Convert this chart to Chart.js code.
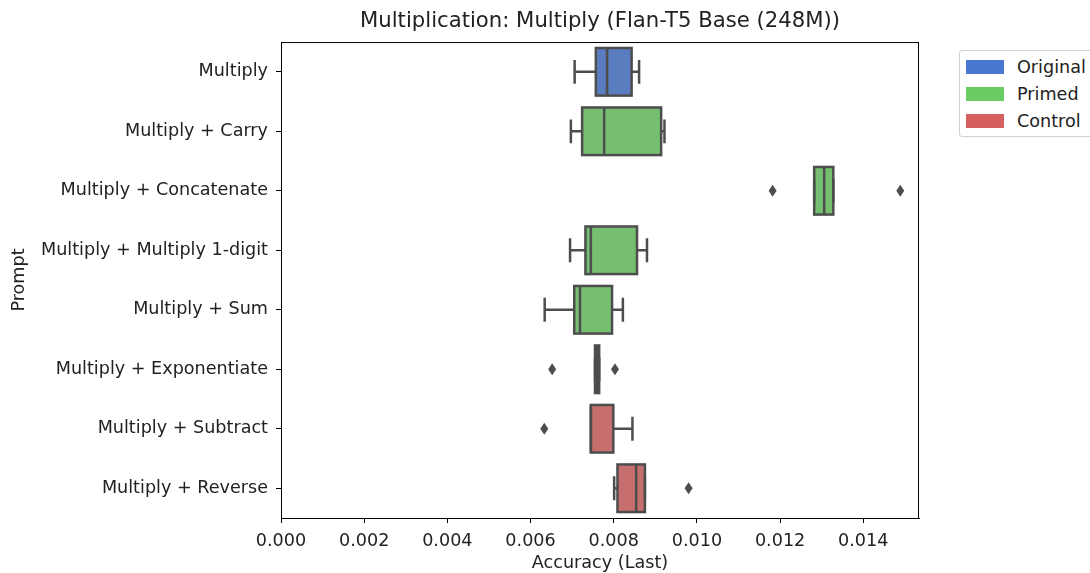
<!DOCTYPE html>
<html>
<head>
<meta charset="utf-8">
<script src="https://cdn.jsdelivr.net/npm/chart.js@4.4.0/dist/chart.umd.min.js"></script>
<style>
	html, body { margin: 0; padding: 0; background: #fff; }
	#wrap { position: relative; width: 1090px; height: 573px; overflow: hidden; }
	#legend { position: absolute; left: 959px; top: 50px; width: 140px; height: 87px;
		border: 1px solid #d0d0d0; border-radius: 3px; box-sizing: border-box; background: #fff;
		font-family: 'DejaVu Sans', sans-serif; font-size: 17.6px; color: #222; }
	.row { position: absolute; left: 0; height: 16px; }
	.patch { position: absolute; left: 6px; top: 1px; width: 38px; height: 14px; }
	.lab { position: absolute; left: 57px; top: -2px; white-space: nowrap; line-height: 20px; }
</style>
</head>
<body>
<div id="wrap">
	<canvas id="boxChart" width="1090" height="573"></canvas>
	<div id="legend"></div>
</div>
<script>
// prompts (top to bottom) and which group each belongs to
const categories = ['Multiply', 'Multiply + Carry', 'Multiply + Concatenate', 'Multiply + Multiply 1-digit',
	'Multiply + Sum', 'Multiply + Exponentiate', 'Multiply + Subtract', 'Multiply + Reverse'];
const groups = ['Original', 'Primed', 'Primed', 'Primed', 'Primed', 'Primed', 'Control', 'Control'];

// box plot stats
const whiskerLow  = [0.00706, 0.00697, 0.01282, 0.00695, 0.00634, 0.00755, 0.00745, 0.00801];
const q1          = [0.00757, 0.00724, 0.01282, 0.00732, 0.00705, 0.00755, 0.00745, 0.00809];
const median      = [0.00784, 0.00777, 0.01306, 0.00745, 0.00719, 0.00760, 0.00745, 0.00854];
const q3          = [0.00843, 0.00914, 0.01328, 0.00856, 0.00796, 0.00765, 0.00799, 0.00875];
const whiskerHigh = [0.00861, 0.00922, 0.01328, 0.00880, 0.00822, 0.00765, 0.00845, 0.00875];
const outliers    = [[], [], [0.01182, 0.01489], [], [], [0.00652, 0.00803], [0.00633], [0.00980]];

const xTicks = [0, 0.002, 0.004, 0.006, 0.008, 0.010, 0.012, 0.014];

const groupNames = ['Original', 'Primed', 'Control'];
const legendColors = ['#4878d0', '#6acc64', '#d65f5f'];
const boxColors = ['#597dbf', '#76bf71', '#c76e6e'];
const lineColor = '#4d4d4d';
const textColor = '#222';

Chart.defaults.font.family = "'DejaVu Sans', sans-serif";
Chart.defaults.color = textColor;

// whiskers, medians, outlines and outlier diamonds
const boxParts = {
	id: 'boxParts',
	afterDatasetsDraw(chart) {
		const ctx = chart.ctx;
		const x = chart.scales.x;
		const meta = chart.getDatasetMeta(0);
		ctx.save();
		ctx.strokeStyle = lineColor;
		ctx.fillStyle = lineColor;
		ctx.lineWidth = 2.5;
		categories.forEach(function(c, i) {
			const bar = meta.data[i];
			const cy = bar.y;
			const h = bar.height;
			const xl = x.getPixelForValue(whiskerLow[i]);
			const xh = x.getPixelForValue(whiskerHigh[i]);
			const a = x.getPixelForValue(q1[i]);
			const b = x.getPixelForValue(q3[i]);
			const m = x.getPixelForValue(median[i]);
			ctx.beginPath();
			// whiskers + caps
			if (xl < a - 0.5) {
				ctx.moveTo(xl, cy); ctx.lineTo(a, cy);
			}
			ctx.moveTo(xl, cy - h / 4); ctx.lineTo(xl, cy + h / 4);
			if (xh > b + 0.5) {
				ctx.moveTo(b, cy); ctx.lineTo(xh, cy);
			}
			ctx.moveTo(xh, cy - h / 4); ctx.lineTo(xh, cy + h / 4);
			// median
			ctx.moveTo(m, cy - h / 2); ctx.lineTo(m, cy + h / 2);
			ctx.stroke();
			// box outline
			ctx.strokeRect(a, cy - h / 2, b - a, h);
			// outliers
			outliers[i].forEach(function(v) {
				const px = x.getPixelForValue(v);
				ctx.beginPath();
				ctx.moveTo(px, cy - 6);
				ctx.lineTo(px + 4, cy);
				ctx.lineTo(px, cy + 6);
				ctx.lineTo(px - 4, cy);
				ctx.closePath();
				ctx.fill();
			});
		});
		ctx.restore();
	},
	afterDraw(chart) {
		const a = chart.chartArea;
		const ctx = chart.ctx;
		ctx.save();
		ctx.strokeStyle = '#000';
		ctx.lineWidth = 1;
		ctx.strokeRect(a.left + 0.5, a.top + 0.5, a.right - a.left - 1, a.bottom - a.top);
		ctx.restore();
	}
};

const ctx = document.getElementById('boxChart').getContext('2d');
const chart = new Chart(ctx, {
	type: 'bar',
	data: {
		labels: categories,
		datasets: [{
			label: 'box',
			data: categories.map((c, i) => [q1[i], q3[i]]),
			backgroundColor: groups.map(g => boxColors[groupNames.indexOf(g)]),
			borderWidth: 0,
			barPercentage: 0.8,
			categoryPercentage: 1.0
		}]
	},
	options: {
		indexAxis: 'y',
		responsive: false,
		animation: false,
		layout: { padding: { left: 0, right: 171, top: 0, bottom: 0 } },
		plugins: {
			legend: { display: false },
			tooltip: { enabled: false },
			title: {
				display: true,
				fullSize: false,
				text: 'Multiplication: Multiply (Flan-T5 Base (248M))',
				color: textColor,
				font: { size: 21.2, weight: 'normal', lineHeight: 1.2 },
				padding: { top: 9, bottom: 7.6 }
			}
		},
		scales: {
			x: {
				type: 'linear',
				min: 0,
				max: 0.01534,
				afterBuildTicks(scale) { scale.ticks = xTicks.map(v => ({ value: v })); },
				afterFit(scale) { scale.height = 55; },
				ticks: {
					callback: v => Number(v).toFixed(3),
					font: { size: 17.6 },
					color: textColor,
					padding: 8,
					maxRotation: 0
				},
				grid: { display: true, drawOnChartArea: false, tickLength: 5, tickColor: '#000' },
				border: { color: '#000' },
				title: { display: true, text: 'Accuracy (Last)', font: { size: 17.6, lineHeight: 1.1 }, color: textColor, padding: { top: 0, bottom: 0 } }
			},
			y: {
				type: 'category',
				afterFit(scale) { scale.width = 281; },
				ticks: { font: { size: 17.6 }, color: textColor, padding: 8 },
				grid: { display: true, offset: false, drawOnChartArea: false, tickLength: 5, tickColor: '#000' },
				border: { color: '#000' },
				title: { display: true, text: 'Prompt', font: { size: 17.6, lineHeight: 1.1 }, color: textColor, padding: { top: 10, bottom: 0 } }
			}
		}
	},
	plugins: [boxParts]
});

// legend box
const legend = document.getElementById('legend');
groupNames.forEach(function(name, i) {
	const row = document.createElement('div');
	row.className = 'row';
	row.style.top = (8 + i * 27) + 'px';
	row.innerHTML = '<div class="patch" style="background:' + legendColors[i] + '"></div><div class="lab">' + name + '</div>';
	legend.appendChild(row);
});
</script>
</body>
</html>
